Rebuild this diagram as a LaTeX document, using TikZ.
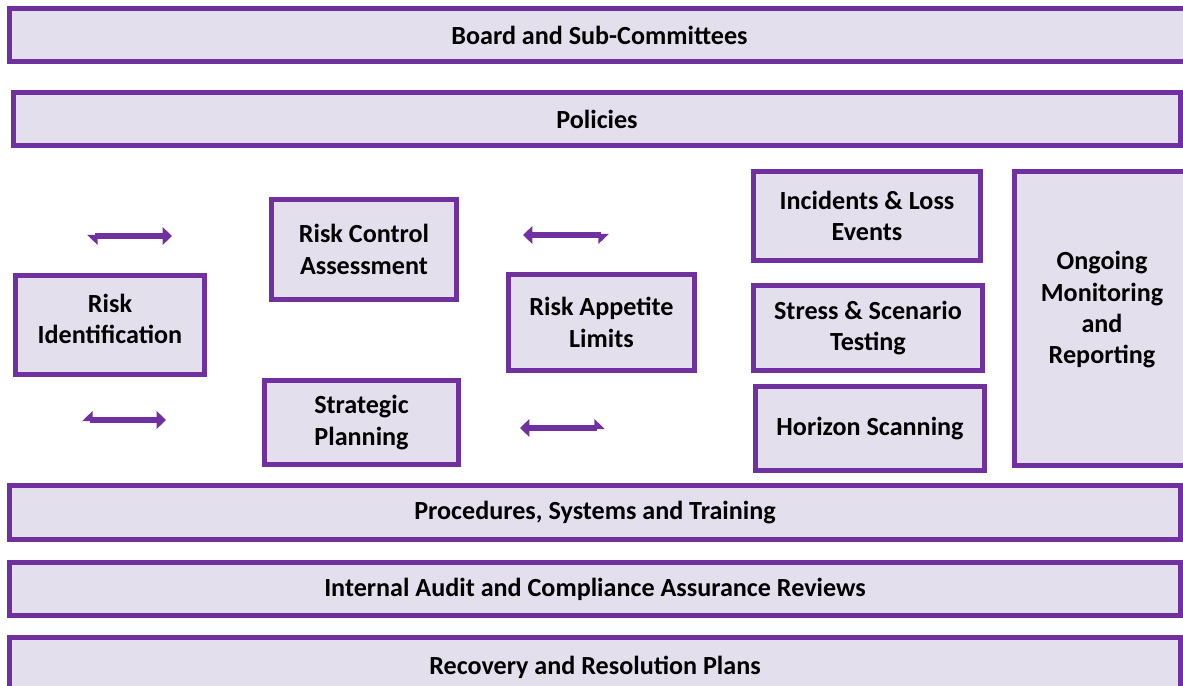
\documentclass[tikz,border=0pt]{standalone}
\usepackage{fontspec}
\setmainfont{Carlito}
\usetikzlibrary{arrows.meta}
\definecolor{framepurple}{HTML}{7030A0}
\definecolor{panelfill}{HTML}{E4DFEC}

% \panelat[lift]{name}{left}{top}{right}{bottom}{text}: a framed panel given by its outer
% edges; the optional lift raises the text inside the frame
\newcommand\panelat[7][0pt]{%
  \node[panel, minimum width={(#5-#3-4.8)*0.75pt}, minimum height={(#6-#4-4.8)*0.75pt}]
    (#2) at ({(#3+#5)/2},{(#4+#6)/2}) {};
  \node[paneltext] (#2-text) at ([yshift=#1]#2.center) {#7};}

\begin{document}
\begin{tikzpicture}[x=0.75pt,y=-0.75pt,
  panel/.style={draw=framepurple, fill=panelfill, line width=3.6pt, inner sep=0pt},
  paneltext/.style={align=center, inner sep=0pt,
    font=\bfseries\fontsize{19.6}{23.4}\selectfont},
  link/.style={draw=framepurple, line width=4.4pt},
]
\useasboundingbox (0,0) rectangle (1183,686);

% horizontal layers
\panelat{board}{7}{6}{1192}{64}{Board and Sub-Committees}
\panelat{policies}{11}{90}{1183}{148}{Policies}
\panelat{procedures}{7}{483}{1183}{542}{Procedures, Systems and Training}
\panelat{audit}{7}{560}{1183}{618}{Internal Audit and Compliance Assurance Reviews}
\panelat{recovery}{7}{635}{1183}{700}{Recovery and Resolution Plans}

% risk cycle
\panelat[4.5pt]{riskid}{13}{273}{207}{377}{Risk\\Identification}
\panelat{rca}{269}{197}{459}{302}{Risk Control\\Assessment}
\panelat{strategic}{262}{378}{461}{467}{Strategic\\Planning}
\panelat{appetite}{506}{272}{697}{373}{Risk Appetite\\Limits}

% supporting activities
\panelat{incidents}{751}{169}{983}{263}{Incidents \& Loss\\Events}
\panelat{stress}{751}{283}{985}{373}{Stress \& Scenario\\Testing}
\panelat{horizon}{753}{384}{987}{473}{Horizon Scanning}
\panelat[6.5pt]{ongoing}{1012}{169}{1192}{468}{Ongoing\\Monitoring\\and\\Reporting}

% arrows between the cycle panels
\coordinate (a1s) at (87,236);  \coordinate (a1e) at (172,236);
\coordinate (a2s) at (523,235); \coordinate (a2e) at (609,235);
\coordinate (a3s) at (520,428); \coordinate (a3e) at (605,428);
\coordinate (a4s) at (82,420);  \coordinate (a4e) at (166,420);

\draw[link, {Triangle[length=7pt, width=13pt, harpoon]}-{Triangle[length=7pt, width=13pt]}] (a1s) -- (a1e);
\draw[link, {Triangle[length=7pt, width=13pt]}-{Triangle[length=7pt, width=13pt, harpoon, swap]}] (a2s) -- (a2e);
\draw[link, {Triangle[length=7pt, width=13pt]}-{Triangle[length=7pt, width=13pt, harpoon]}] (a3s) -- (a3e);
\draw[link, {Triangle[length=7pt, width=13pt, harpoon, swap]}-{Triangle[length=7pt, width=13pt]}] (a4s) -- (a4e);
\end{tikzpicture}
\end{document}
